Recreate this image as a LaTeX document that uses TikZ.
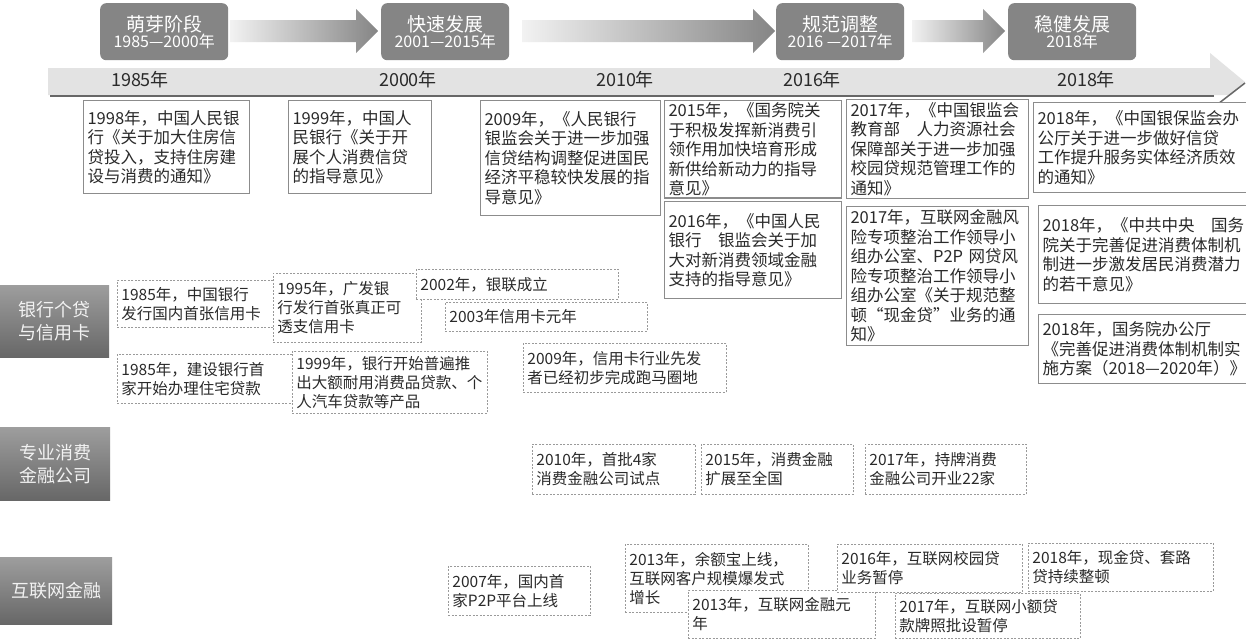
\documentclass[tikz,border=0pt]{standalone}
\usepackage{fontspec}
\setmainfont{Noto Sans CJK SC}
\usetikzlibrary{positioning}
\definecolor{cfink}{HTML}{2A2A2A}
\definecolor{cfgray}{HTML}{858585}
\definecolor{cfdark}{HTML}{676767}
\definecolor{cfbar}{HTML}{E3E3E3}
\definecolor{cfline}{HTML}{8C8C8C}
\definecolor{cfdot}{HTML}{9A9A9A}
\definecolor{cflight}{HTML}{F2F2F2}
\tikzset{
  cf text/.style={text=cfink},
  cf size/.style 2 args={minimum width=#1pt, minimum height=#2pt, text width=#1pt-8pt},
  cf phase/.style={fill=cfgray, rounded corners=6pt, text=white, align=center,
    minimum width=128pt, minimum height=57pt, anchor=north west, inner sep=0pt},
  cf arrow/.style={left color=cflight, right color=cfgray},
  cf year/.style={font=\fontsize{18pt}{20pt}\selectfont},
  cf policy/.style={draw=cfline, line width=1.1pt, fill=white, anchor=north west,
    align=left, inner xsep=4pt, inner ysep=2pt, font=\fontsize{16.5pt}{19.5pt}\selectfont},
  cf event/.style={draw=cfdot, line width=0.9pt, dash pattern=on 2pt off 1.5pt, fill=white,
    anchor=north west, align=left, inner xsep=4pt, inner ysep=2pt,
    font=\fontsize{15.5pt}{19pt}\selectfont},
  cf row/.style={top color=cfgray!80, bottom color=cfdark, text=cflight, align=center,
    anchor=north west, inner sep=0pt, font=\fontsize{18pt}{23pt}\selectfont}
}

\begin{document}
\begin{tikzpicture}[cf text, x=1pt, y=-1pt]
  \useasboundingbox[fill=white] (0,0) rectangle (1246,640);
  % stages
  \foreach \n/\x/\nm/\yr in {1/100/萌芽阶段/1985—2000年, 2/381/快速发展/2001—2015年,
      3/776/规范调整/2016 —2017年, 4/1008/稳健发展/2018年} {
    \node[cf phase] (ph\n) at (\x,3)
      {\fontsize{19pt}{22pt}\selectfont \nm\\\fontsize{16pt}{24pt}\selectfont \yr};
  }
  \foreach \a/\b in {230/378, 522/775, 912/1005}
    \shade[cf arrow] (\a,20) -- (\b-22,20) -- (\b-22,9) -- (\b,31) -- (\b-22,53)
      -- (\b-22,42) -- (\a,42) -- cycle;
  % time axis
  \fill[cfbar] (48,68) -- (1210,68) -- (1210,53) -- (1245,82) -- (1231,95) -- (48,95) -- cycle;
  \draw[cfdark, line width=2.5pt] (50,96) -- (1214,96);
  \draw[cfdark, line width=1.5pt] (1245,83) -- (1214,107);
  \foreach \x/\yr in {140/1985, 408/2000, 625/2010, 812/2016, 1086/2018}
    \node[cf year] (yr\yr) at (\x,80) {\yr 年};

  % policies
  \node[cf policy, cf size={166}{93}] (p1998) at (83,100)
    {1998年，中国人民银\\行《关于加大住房信\\贷投入，支持住房建\\设与消费的通知》};
  \node[cf policy, cf size={143}{93}] (p1999) at (288,100)
    {1999年，中国人\\民银行《关于开\\展个人消费信贷\\的指导意见》};
  \node[cf policy, cf size={180}{115}] (p2009) at (480,100)
    {2009年，《人民银行\\银监会关于进一步加强\\信贷结构调整促进国民\\经济平稳较快发展的指\\导意见》};
  \node[cf policy, cf size={177}{97}] (p2015) at (664,100)
    {2015年，《国务院关\\于积极发挥新消费引\\领作用加快培育形成\\新供给新动力的指导\\意见》};
  \node[cf policy, cf size={177}{97}] (p2016) at (664,201)
    {2016年，《中国人民\\银行　银监会关于加\\大对新消费领域金融\\支持的指导意见》};
  \node[cf policy, cf size={182}{99}] (p2017a) at (846,99)
    {2017年，《中国银监会\\教育部　人力资源社会\\保障部关于进一步加强\\校园贷规范管理工作的\\通知》};
  \node[cf policy, cf size={182}{139}] (p2017b) at (846,206)
    {2017年，互联网金融风\\险专项整治工作领导小\\组办公室、P2P 网贷风\\险专项整治工作领导小\\组办公室《关于规范整\\顿“现金贷”业务的通\\知》};
  \node[cf policy, cf size={213}{90}] (p2018a) at (1033,102)
    {2018年，《中国银保监会办\\公厅关于进一步做好信贷\\工作提升服务实体经济质效\\的通知》};
  \node[cf policy, cf size={208}{98}] (p2018b) at (1038,205)
    {2018年，《中共中央　国务\\院关于完善促进消费体制机\\制进一步激发居民消费潜力\\的若干意见》};
  \node[cf policy, cf size={208}{69}] (p2018c) at (1038,314)
    {2018年，国务院办公厅\\《完善促进消费体制机制实\\\mbox{施方案（2018—2020年）》}};

  % rows
  \node[cf row, minimum width=109pt, minimum height=72pt] (rbank) at (0,285) {银行个贷\\与信用卡};
  \node[cf row, minimum width=110pt, minimum height=73pt] (rcfc) at (0,427) {专业消费\\金融公司};
  \node[cf row, minimum width=112pt, minimum height=67pt] (rnet) at (0,557) {互联网金融};

  % bank loans and cards
  \node[cf event, cf size={156}{47}] (e1985a) at (117,280) {1985年，中国银行\\发行国内首张信用卡};
  \node[cf event, cf size={148}{69}] (e1995) at (273,273) {1995年，广发银\\行发行首张真正可\\透支信用卡};
  \node[cf event, cf size={202}{30}] (e2002) at (416,269) {2002年，银联成立};
  \node[cf event, cf size={202}{29}] (e2003) at (445,302) {2003年信用卡元年};
  \node[cf event, cf size={175}{49}] (e1985b) at (117,354) {1985年，建设银行首\\家开始办理住宅贷款};
  \node[cf event, cf size={195}{62}] (e1999) at (292,351)
    {1999年，银行开始普遍推\\出大额耐用消费品贷款、个\\人汽车贷款等产品};
  \node[cf event, cf size={203}{49}] (e2009) at (523,343) {2009年，信用卡行业先发\\者已经初步完成跑马圈地};

  % consumer finance companies
  \node[cf event, cf size={163}{50}] (e2010) at (532,444) {2010年，首批4家\\消费金融公司试点};
  \node[cf event, cf size={152}{50}] (e2015) at (701,444) {2015年，消费金融\\扩展至全国};
  \node[cf event, cf size={161}{50}] (e2017a) at (865,444) {2017年，持牌消费\\金融公司开业22家};

  % internet finance
  \node[cf event, cf size={142}{49}] (e2007) at (448,566) {2007年，国内首\\家P2P平台上线};
  \node[cf event, cf size={183}{68}] (e2013a) at (625,544) {2013年，余额宝上线，\\互联网客户规模爆发式\\增长};
  \node[cf event, cf size={187}{48}] (e2013b) at (688,590) {2013年，互联网金融元\\年};
  \node[cf event, cf size={185}{48}] (e2016) at (837,544) {2016年，互联网校园贷\\业务暂停};
  \node[cf event, cf size={185}{45}] (e2017b) at (895,593) {2017年，互联网小额贷\\款牌照批设暂停};
  \node[cf event, cf size={185}{48}] (e2018) at (1028,543) {2018年，现金贷、套路\\贷持续整顿};
\end{tikzpicture}
\end{document}
